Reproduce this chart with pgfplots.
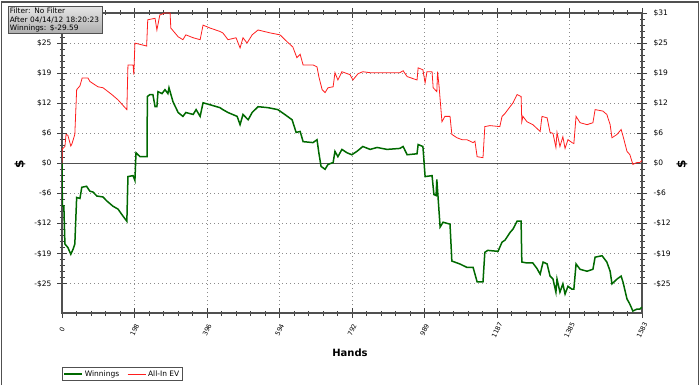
\documentclass[border=0pt]{standalone}
\usepackage{fontspec}
\setmainfont{DejaVu Sans}
\usepackage{pgfplots}
\pgfplotsset{compat=1.18}
\definecolor{wingreen}{RGB}{0,105,0}
\definecolor{evred}{RGB}{255,30,30}
\definecolor{axgray}{RGB}{80,80,80}
\begin{document}
\begin{tikzpicture}[x=1pt,y=1pt]
\useasboundingbox (0,0) rectangle (700,385);
\draw[axgray, line width=1.2pt] (1.5,0) -- (1.5,383) -- (698.5,383) -- (698.5,0);
\begin{axis}[
  at={(62pt,72pt)}, anchor=south west,
  width=580pt, height=300pt, scale only axis,
  xmin=0, xmax=1583, ymin=-30.8, ymax=31,
  xtick={0,197.875,395.75,593.625,791.5,989.375,1187.25,1385.125,1583},
  xticklabels={0,198,396,594,792,989,1187,1385,1583},
  minor x tick num=4,
  ytick={-24.8,-18.6,-12.4,-6.2,0,6.2,12.4,18.6,24.8,31},
  yticklabels={-\$25,-\$19,-\$12,-\$6,\$0,\$6,\$12,\$19,\$25,\$31},
  minor y tick num=4,
  xtick pos=both, ytick pos=both,
  tick align=center,
  major tick length=10pt, minor tick length=5pt,
  axis line style={axgray, line width=1.2pt},
  every tick/.style={black!75, line width=0.8pt},
  grid=major,
  major grid style={gray!90, dash pattern=on 1pt off 3pt, line width=0.8pt},
  yticklabel style={font=\fontsize{7.5}{8}\selectfont, xshift=-2pt},
  xticklabel style={font=\fontsize{6.5}{7}\selectfont, rotate=65, anchor=center, xshift=-10.9pt, yshift=-5.1pt},
  legend style={at={(0,-0.18)}, anchor=north west, legend columns=2,
    font=\fontsize{7.5}{8}\selectfont, draw=axgray, line width=0.8pt, inner sep=1pt,
    /tikz/every even column/.append style={column sep=6pt}},
  legend image code/.code={\draw[#1] (0pt,0pt) -- (18pt,0pt);},
]
\addplot[axgray, line width=0.8pt, forget plot] coordinates {(0,0) (1583,0)};
\addplot[wingreen, line width=1.5pt] coordinates {
(0,0) (1,-8.8) (5,-8.8) (8,-16.6) (16,-17.3) (24,-18.7) (30,-17.7) (35,-16.6)
(40,-7.0) (49,-7.2) (54,-4.9) (67,-4.7) (76,-5.7) (85,-5.9) (95,-6.7) (112,-6.9)
(122,-7.7) (139,-8.8) (153,-9.4) (166,-10.8) (177,-11.9) (180,-2.7) (194,-2.5)
(199,-3.5) (202,2.2) (213,1.4) (232,1.4) (233,13.8) (240,14.2) (248,14.2) (254,11.7)
(259,11.7) (262,14.8) (273,14.4) (281,15.2) (289,14.4) (292,15.6) (303,12.7)
(317,10.5) (330,9.7) (338,10.5) (358,10.1) (366,11.1) (377,9.7) (385,12.5)
(404,12.1) (431,11.5) (439,11.1) (453,10.5) (478,9.7) (486,8.0) (494,10.1)
(508,9.0) (519,10.5) (535,11.7) (562,11.5) (589,11.1) (608,10.1) (628,9.0)
(639,6.4) (650,6.6) (658,4.5) (685,4.3) (696,4.9) (701,2.2) (707,-0.6) (718,-1.2)
(726,-0.2) (740,0.2) (745,2.5) (753,1.4) (764,2.9) (778,2.2) (791,1.8) (805,2.5)
(821,3.5) (841,2.9) (860,3.3) (887,2.9) (922,3.1) (931,3.5) (942,1.8) (969,2.0)
(972,3.9) (985,3.5) (991,-2.7) (1010,-2.5) (1015,-6.4) (1021,-6.6) (1023,-3.3)
(1032,-13.1) (1040,-12.1) (1059,-12.5) (1064,-20.1) (1086,-20.7) (1105,-21.4)
(1122,-21.4) (1133,-24.4) (1149,-24.4) (1154,-18.3) (1162,-17.9) (1190,-18.1)
(1201,-16.2) (1209,-15.8) (1223,-14.2) (1231,-13.5) (1242,-11.9) (1253,-11.9)
(1255,-20.3) (1269,-20.5) (1285,-20.5) (1296,-21.6) (1305,-22.8) (1313,-20.3)
(1324,-20.7) (1332,-23.2) (1340,-23.8) (1348,-26.5) (1351,-23.8) (1359,-26.5)
(1367,-24.8) (1373,-26.9) (1381,-25.3) (1392,-25.9) (1397,-25.9) (1403,-20.7)
(1414,-21.8) (1433,-22.2) (1449,-21.8) (1455,-19.3) (1474,-19.0) (1487,-20.3)
(1496,-22.2) (1501,-24.8) (1515,-23.8) (1526,-23.2) (1531,-24.4) (1542,-27.9)
(1550,-29.0) (1558,-30.4) (1569,-30.0) (1577,-30.0) (1583,-29.59)
};
\addlegendentry{Winnings}
\addplot[evred, line width=0.8pt] coordinates {
(0,0) (1,3.0) (8,3.5) (11,6.0) (16,5.8) (24,3.6) (27,4.0) (35,6.0) (40,15.2)
(49,16.0) (55,17.6) (71,17.6) (76,16.9) (98,15.8) (112,15.6) (136,14.2) (153,13.1)
(172,11.5) (177,11.1) (180,20.3) (194,20.3) (196,18.3) (199,24.8) (231,24.2)
(234,29.6) (254,29.9) (259,27.5) (267,30.6) (281,31) (295,31) (297,27.9) (317,26.1)
(330,25.5) (338,26.5) (358,25.9) (377,25.5) (385,28.5) (404,27.9) (431,27.2)
(439,26.9) (453,25.5) (475,25.9) (486,23.8) (494,25.9) (505,24.8) (519,26.5)
(535,27.5) (568,26.9) (595,26.5) (614,25.1) (630,24.0) (641,21.8) (650,22.5)
(658,20.3) (685,20.3) (696,19.9) (701,17.9) (710,15.2) (718,14.6) (726,15.6)
(740,15.8) (745,18.7) (753,17.2) (764,18.9) (786,18.3) (794,17.2) (808,18.5)
(821,18.9) (841,18.7) (922,18.7) (931,19.1) (942,17.9) (969,17.2) (972,19.7)
(985,19.3) (991,16.6) (996,18.9) (1010,18.9) (1013,15.6) (1018,15.2) (1023,14.8)
(1025,18.9) (1029,16.0) (1037,8.6) (1045,9.7) (1059,9.7) (1064,6.0) (1078,5.3)
(1092,4.9) (1105,4.9) (1122,4.3) (1127,4.6) (1133,1.4) (1149,1.2) (1154,7.6)
(1168,7.8) (1195,7.6) (1201,9.7) (1209,10.3) (1223,11.7) (1231,12.5) (1242,14.2)
(1253,13.8) (1255,8.6) (1258,9.7) (1269,8.6) (1285,8.0) (1305,6.6) (1310,9.7)
(1324,9.4) (1332,6.4) (1340,6.2) (1348,3.3) (1351,6.4) (1359,3.5) (1367,5.5)
(1373,3.1) (1381,4.9) (1392,4.3) (1397,4.1) (1403,9.7) (1414,8.4) (1433,8.0)
(1449,8.4) (1455,11.1) (1476,10.8) (1487,10.1) (1496,8.0) (1501,5.3) (1515,6.0)
(1526,7.0) (1531,5.7) (1542,2.5) (1550,1.8) (1558,-0.2) (1569,0.2) (1577,0.2)
(1583,0.6)
};
\addlegendentry{All-In EV}
\end{axis}
\begin{axis}[
  at={(62pt,72pt)}, anchor=south west,
  width=580pt, height=300pt, scale only axis,
  xmin=0, xmax=1583, ymin=-30.8, ymax=31,
  hide x axis, axis y line*=right,
  axis line style={draw=none},
  ytick={-24.8,-18.6,-12.4,-6.2,0,6.2,12.4,18.6,24.8,31},
  yticklabels={-\$25,-\$19,-\$12,-\$6,\$0,\$6,\$12,\$19,\$25,\$31},
  major tick length=10pt, tick align=center,
  ytick style={draw=none},
  yticklabel style={font=\fontsize{7.5}{8}\selectfont, xshift=3pt},
]
\addplot[draw=none] coordinates {(0,0)};
\end{axis}
\node[font=\bfseries\fontsize{10}{12}\selectfont] at (350,32.5) {Hands};
\node[font=\bfseries\fontsize{12}{14}\selectfont, rotate=90] at (20,221) {\$};
\node[font=\bfseries\fontsize{12}{14}\selectfont, rotate=90] at (682,221) {\$};
\node[draw=axgray, line width=0.8pt, top color=gray!20, bottom color=gray!65,
  anchor=north west, inner sep=1.5pt, align=left, text width=91pt,
  font=\fontsize{7.4}{8.6}\selectfont, minimum height=27pt] at (8,379)
  {Filter: No Filter\\After 04/14/12 18:20:23\\Winnings: \$-29.59};
\end{tikzpicture}
\end{document}
